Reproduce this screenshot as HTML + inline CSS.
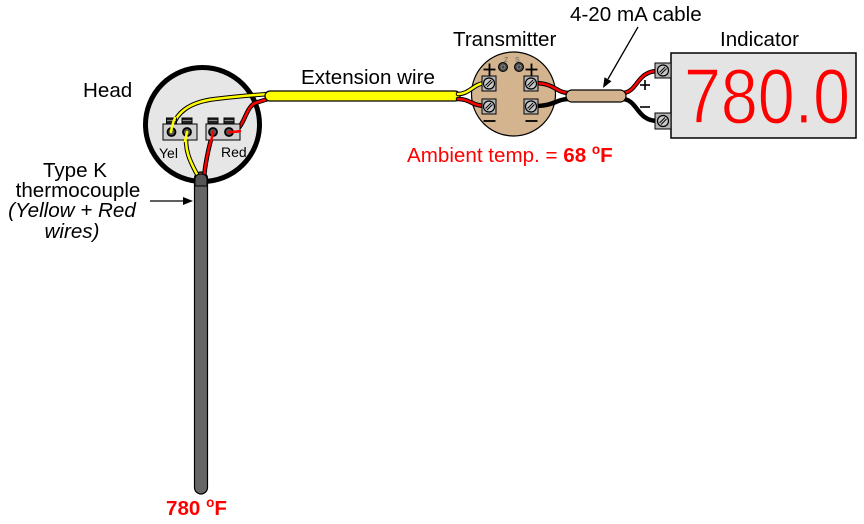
<!DOCTYPE html>
<html>
<head>
<meta charset="utf-8">
<style>
html,body{margin:0;padding:0;background:#fff;}
svg{display:block;}
text{font-family:"Liberation Sans",Arial,sans-serif;}
</style>
</head>
<body>
<svg width="864" height="524" viewBox="0 0 864 524" xmlns="http://www.w3.org/2000/svg">
  <!-- Head circle -->
  <circle cx="202.5" cy="124.5" r="57" fill="#e6e6e6" stroke="#000" stroke-width="5"/>

  <!-- Probe -->
  <rect x="194.5" y="172" width="13" height="322" rx="6.5" fill="#666" stroke="#000" stroke-width="1.2"/>

  <!-- Head wires (black outline + color) -->
  <g fill="none" stroke-linecap="round">
    <path d="M171,132 C175,112 190,102 215,99 S255,95 268,94" stroke="#000" stroke-width="4.5"/>
    <path d="M171,132 C175,112 190,102 215,99 S255,95 268,94" stroke="#ffff00" stroke-width="2.5"/>
    <path d="M229,132 C245,132 243,110 255,103 L268,99" stroke="#000" stroke-width="4.5"/>
    <path d="M229,132 C245,132 243,110 255,103 L268,99" stroke="#ff0000" stroke-width="2.5"/>
    <path d="M187,132 C183,150 192,165 199,178" stroke="#000" stroke-width="4.5"/>
    <path d="M187,132 C183,150 192,165 199,178" stroke="#ffff00" stroke-width="2.5"/>
    <path d="M213,132 C208,150 205,165 204,178" stroke="#000" stroke-width="4.5"/>
    <path d="M213,132 C208,150 205,165 204,178" stroke="#ff0000" stroke-width="2.5"/>
  </g>
  <!-- probe top cap -->
  <path d="M195,186 L195,180 Q195,174 201,174 Q207,174 207,180 L207,186 Z" fill="#555" stroke="#000" stroke-width="1"/>

  <!-- Head terminal blocks -->
  <g stroke="#000" stroke-width="1">
    <rect x="163" y="124" width="34" height="16" fill="#d0d0d0"/>
    <rect x="206" y="124" width="34" height="16" fill="#d0d0d0"/>
    <rect x="166.5" y="118" width="10" height="6" fill="#222"/>
    <rect x="182" y="118" width="10" height="6" fill="#222"/>
    <rect x="208" y="118" width="10" height="6" fill="#222"/>
    <rect x="224" y="118" width="10" height="6" fill="#222"/>
  </g>
  <g stroke="#888" stroke-width="1">
    <line x1="167" y1="120.5" x2="176" y2="120.5"/>
    <line x1="182.5" y1="120.5" x2="191.5" y2="120.5"/>
    <line x1="208.5" y1="120.5" x2="217.5" y2="120.5"/>
    <line x1="224.5" y1="120.5" x2="233.5" y2="120.5"/>
  </g>
  <g fill="#555" stroke="#000" stroke-width="1.8">
    <circle cx="171.5" cy="132" r="4"/>
    <circle cx="187" cy="132" r="4"/>
    <circle cx="213" cy="132" r="4"/>
    <circle cx="229" cy="132" r="4"/>
  </g>
  <g fill="none" stroke-linecap="round" stroke-width="2.5">
    <path d="M171,132 C172,126 173,122 175,118" stroke="#ffff00"/>
    <path d="M187,132 C186,136 186,139 185,141" stroke="#ffff00"/>
    <path d="M213,132 C212,136 212,139 211,141" stroke="#ff0000"/>
    <path d="M229,132 C233,132 236,132 240,131" stroke="#ff0000"/>
  </g>
  <text x="159" y="158" font-size="14" fill="#000">Yel</text>
  <text x="221" y="157" font-size="14" fill="#000">Red</text>

  <!-- Extension wire -->
  <rect x="265" y="91" width="195" height="10" rx="5" fill="#ffff00" stroke="#000" stroke-width="1.2"/>

  <!-- Transmitter -->
  <circle cx="513.5" cy="94" r="42" fill="#d4b48e" stroke="#000" stroke-width="1.2"/>

  <g fill="none" stroke-linecap="round">
    <path d="M458,94 C470,94 474,83 486,83" stroke="#000" stroke-width="4.5"/>
    <path d="M458,94 C470,94 474,83 486,83" stroke="#ffff00" stroke-width="2.5"/>
    <path d="M458,99 C470,99 472,106 486,106" stroke="#000" stroke-width="4.5"/>
    <path d="M458,99 C470,99 472,106 486,106" stroke="#ff0000" stroke-width="2.5"/>
    <path d="M534,83 C555,83 556,93 569,93" stroke="#000" stroke-width="4.5"/>
    <path d="M534,83 C555,83 556,93 569,93" stroke="#ff0000" stroke-width="2.5"/>
    <path d="M534,106 C555,106 556,99 569,99" stroke="#000" stroke-width="4.5"/>
    <path d="M622,93 C638,93 636,71 658,71" stroke="#000" stroke-width="4.5"/>
    <path d="M622,93 C638,93 636,71 658,71" stroke="#ff0000" stroke-width="2.5"/>
    <path d="M622,99 C638,99 636,121 658,121" stroke="#000" stroke-width="4.5"/>
  </g>

  <!-- Cable -->
  <rect x="566" y="90" width="60" height="12" rx="6" fill="#d4b48e" stroke="#000" stroke-width="1.2"/>

  <!-- Transmitter terminals -->
  <g stroke="#000" stroke-width="1">
    <rect x="482" y="76" width="14" height="15" fill="#b4b4b4"/>
    <rect x="482" y="99" width="14" height="15" fill="#b4b4b4"/>
    <rect x="524" y="76" width="14" height="15" fill="#b4b4b4"/>
    <rect x="524" y="99" width="14" height="15" fill="#b4b4b4"/>
    <circle cx="489" cy="83.5" r="5.5" fill="#c8c8c8" stroke-width="1.2"/>
    <circle cx="489" cy="106.5" r="5.5" fill="#c8c8c8" stroke-width="1.2"/>
    <circle cx="531" cy="83.5" r="5.5" fill="#c8c8c8" stroke-width="1.2"/>
    <circle cx="531" cy="106.5" r="5.5" fill="#c8c8c8" stroke-width="1.2"/>
    <line x1="485.5" y1="85.5" x2="491" y2="80"/><line x1="487" y1="87" x2="492.5" y2="81.5"/>
    <line x1="485.5" y1="108.5" x2="491" y2="103"/><line x1="487" y1="110" x2="492.5" y2="104.5"/>
    <line x1="527.5" y1="85.5" x2="533" y2="80"/><line x1="529" y1="87" x2="534.5" y2="81.5"/>
    <line x1="527.5" y1="108.5" x2="533" y2="103"/><line x1="529" y1="110" x2="534.5" y2="104.5"/>
  </g>
  <g stroke="#000" stroke-width="1.8">
    <line x1="483.5" y1="69.5" x2="495.5" y2="69.5"/><line x1="489.5" y1="63.5" x2="489.5" y2="75.5"/>
    <line x1="525.5" y1="69.5" x2="537.5" y2="69.5"/><line x1="531.5" y1="63.5" x2="531.5" y2="75.5"/>
    <line x1="483.5" y1="121" x2="495.5" y2="121"/>
    <line x1="525.5" y1="121" x2="537.5" y2="121"/>
  </g>
  <circle cx="503" cy="67" r="4.5" fill="#444" stroke="#000" stroke-width="1"/>
  <circle cx="503" cy="67" r="2" fill="none" stroke="#999" stroke-width="0.8"/>
  <circle cx="519" cy="67" r="4.5" fill="#444" stroke="#000" stroke-width="1"/>
  <circle cx="519" cy="67" r="2" fill="none" stroke="#999" stroke-width="0.8"/>
  <text x="504" y="62" font-size="7" fill="#666">Z</text>
  <text x="515" y="62" font-size="7" fill="#666">S</text>

  <!-- Indicator -->
  <rect x="671" y="53" width="185" height="85" fill="#e4e4e4" stroke="#000" stroke-width="1.5"/>
  <g stroke="#000" stroke-width="1">
    <rect x="655" y="63" width="16" height="15" fill="#b4b4b4"/>
    <rect x="655" y="113" width="16" height="16" fill="#b4b4b4"/>
    <circle cx="663" cy="70.5" r="5.5" fill="#c8c8c8" stroke-width="1.2"/>
    <circle cx="663" cy="121" r="5.5" fill="#c8c8c8" stroke-width="1.2"/>
    <line x1="659.5" y1="72.5" x2="665" y2="67"/><line x1="661" y1="74" x2="666.5" y2="68.5"/>
    <line x1="659.5" y1="123" x2="665" y2="117.5"/><line x1="661" y1="124.5" x2="666.5" y2="119"/>
  </g>
  <g stroke="#000" stroke-width="1.6">
    <line x1="640" y1="85" x2="650" y2="85"/><line x1="645" y1="80" x2="645" y2="90"/>
    <line x1="640" y1="107" x2="650" y2="107"/>
  </g>
  <text x="684" y="123" font-size="78" fill="#ff0000" stroke="#e4e4e4" stroke-width="1.2" textLength="166" lengthAdjust="spacingAndGlyphs">780.0</text>

  <!-- Labels -->
  <text x="83" y="97" font-size="20.6" fill="#000">Head</text>
  <text x="301" y="84" font-size="20.6" fill="#000">Extension wire</text>
  <text x="453" y="46" font-size="20.6" fill="#000">Transmitter</text>
  <text x="570" y="21" font-size="20.6" fill="#000">4-20 mA cable</text>
  <text x="720" y="46" font-size="20.6" fill="#000">Indicator</text>

  <g font-size="20.6" fill="#000" text-anchor="middle">
    <text x="75" y="177">Type K</text>
    <text x="78" y="197">thermocouple</text>
    <text x="72" y="217" font-style="italic">(Yellow + Red</text>
    <text x="72" y="238" font-style="italic">wires)</text>
  </g>

  <text x="407" y="162" font-size="20.6" fill="#ff0000">Ambient temp. = <tspan font-weight="bold">68 </tspan><tspan font-weight="bold" font-size="13.5" dy="-8">o</tspan><tspan font-weight="bold" dy="8">F</tspan></text>
  <text x="166" y="515" font-size="20.6" fill="#ff0000" font-weight="bold">780 <tspan font-size="13.5" dy="-8">o</tspan><tspan dy="8">F</tspan></text>

  <!-- Arrows -->
  <line x1="150" y1="201" x2="185" y2="201" stroke="#000" stroke-width="1.3"/>
  <polygon points="193,201 183,197 183,205" fill="#000"/>
  <line x1="638" y1="27" x2="608" y2="79" stroke="#000" stroke-width="1.3"/>
  <polygon points="603,88 611.5,81.3 604.5,77.3" fill="#000"/>
</svg>
</body>
</html>
